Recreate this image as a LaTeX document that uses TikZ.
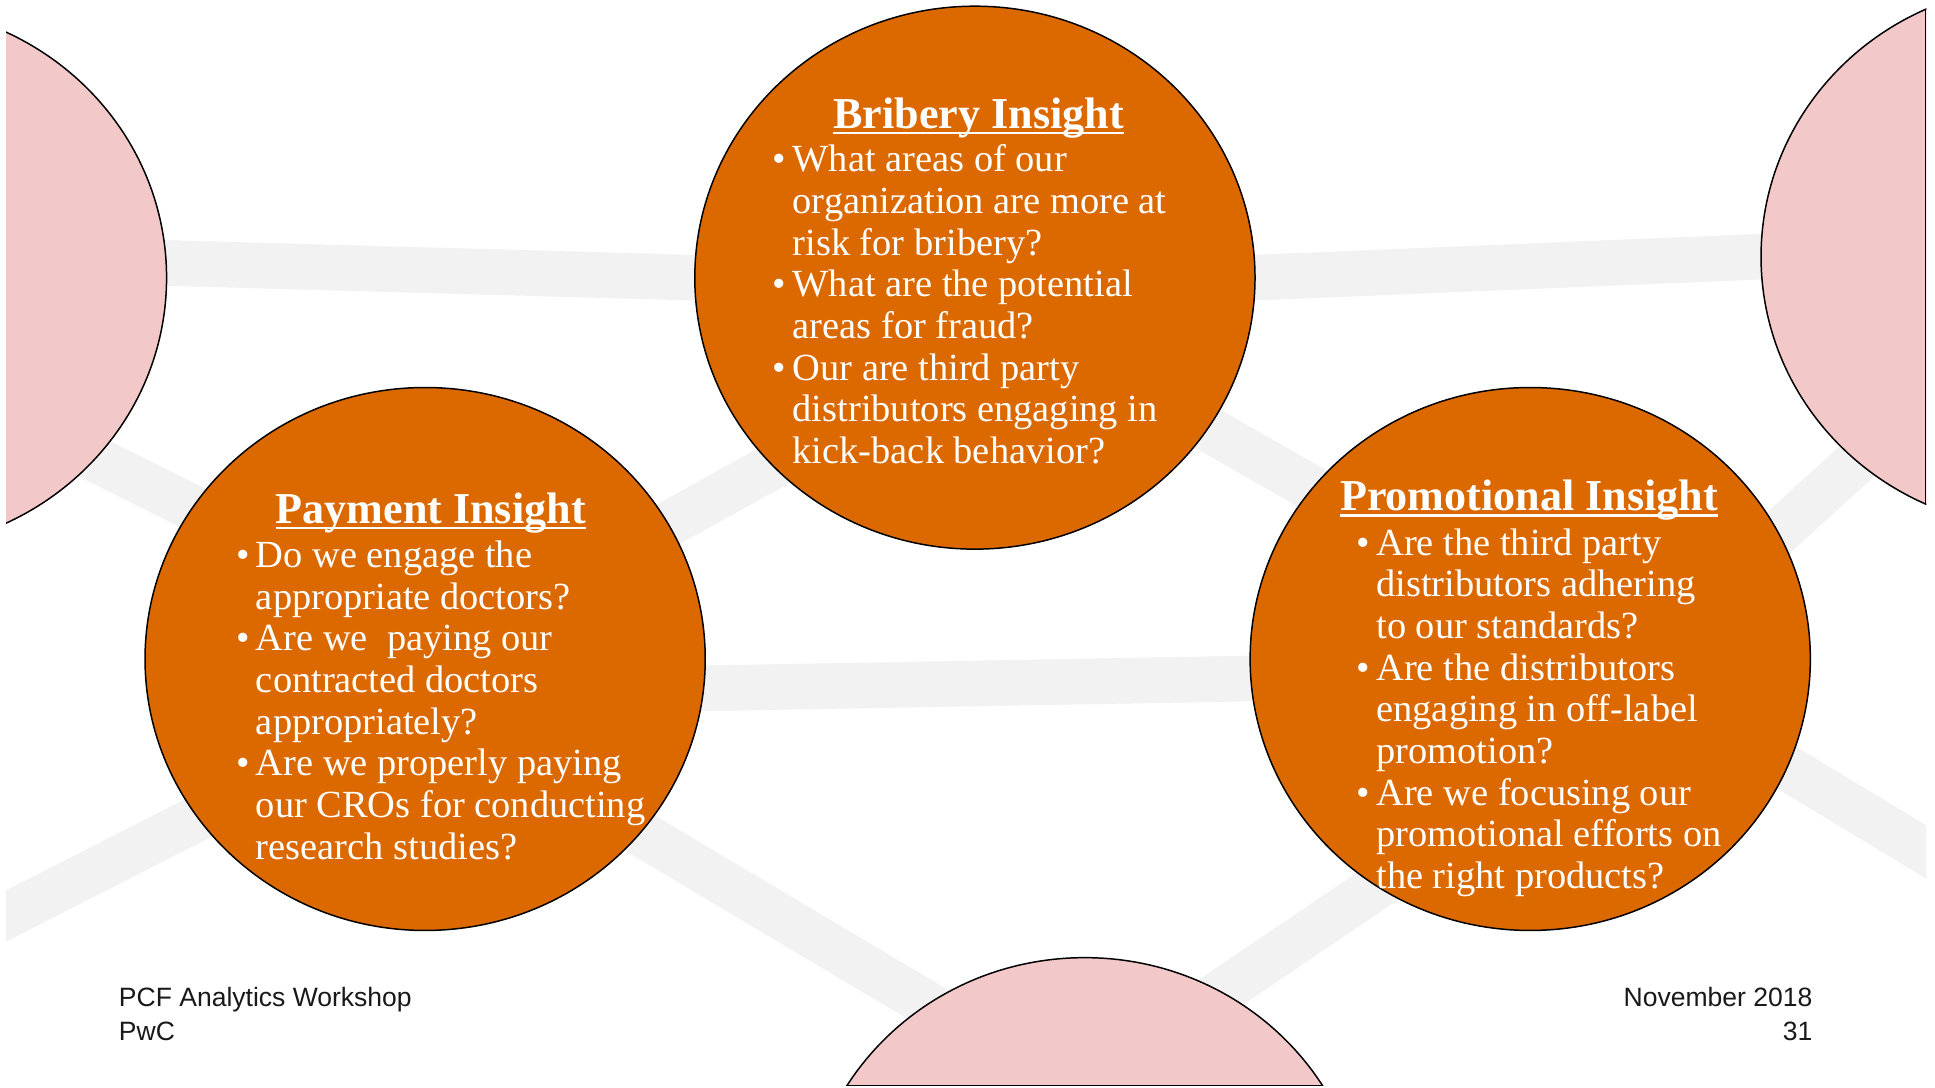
\documentclass[tikz,border=0pt]{standalone}
\usepackage{fontspec}
\setmainfont{Liberation Serif}
\newfontfamily\footfont{Liberation Sans}
\usetikzlibrary{shapes.geometric, positioning, backgrounds}
\definecolor{pwcorange}{RGB}{220, 105, 0}
\definecolor{riskpink}{RGB}{242, 200, 200}
\definecolor{bridgegray}{RGB}{242, 242, 242}
\definecolor{footgray}{RGB}{25, 25, 25}

\newcommand{\ultitle}[1]{\setbox0\hbox{#1}\rlap{\rule[-2.3pt]{\wd0}{0.9pt}}\box0}
\newcommand{\qbullet}{\llap{\textbullet\hspace{2.6pt}}}

\begin{document}
\begin{tikzpicture}[
        x=0.0175cm, y=-0.0175cm,
        insight/.style={ellipse, draw=black, line width=0.6pt, fill=pwcorange, minimum width=7.945cm, minimum height=7.7cm, inner sep=0pt},
        risk/.style={insight, fill=riskpink},
        bridge/.style={draw=bridgegray, line width=18.4pt, shorten <=-14pt, shorten >=-14pt},
        headline/.style={text=white, font=\fontsize{17.8}{20}\selectfont\bfseries, inner sep=0pt, anchor=base},
        question/.style={text=white, font=\fontsize{15.5}{16.8}\selectfont, align=left, inner sep=0pt, anchor=north west},
        footer/.style={text=footgray, font=\footfont\fontsize{10.7}{12.9}\selectfont, inner sep=0pt}
    ]
    \useasboundingbox (0,0) rectangle (1568,881);

    % the five areas
    \begin{scope}
        \clip (5,0) rectangle (1561,880);
        \node[risk] (riskL) at (-92,225) {};
        \node[risk] (riskR) at (1654,208) {};
        \node[risk] (riskB) at (879,996) {};
        \node[insight] (brib) at (790,225) {};
        \node[insight] (pay) at (344.5,534) {};
        \node[insight] (promo) at (1240,534) {};
    \end{scope}
    \draw[line width=0.6pt] (riskR.115) -- (riskR.245);
    \draw[line width=0.6pt] (riskB.149) -- (riskB.31);

    % grey links behind the areas
    \coordinate (edgeW) at (-20,755);
    \coordinate (edgeE) at (1590,708);
    \begin{scope}[on background layer]
        \fill[white] (0,0) rectangle (1568,881);
        \clip (5,0) rectangle (1561,880);
        \draw[bridge] (riskL.3) -- (brib.180);
        \draw[bridge] (brib.0) -- (riskR.180);
        \draw[bridge] (riskL.-41) -- (pay.147);
        \draw[bridge] (pay.29) -- (brib.223);
        \draw[bridge] (brib.-33) -- (promo.142);
        \draw[bridge] (promo.27) -- (riskR.228);
        \draw[bridge] (pay.-6) -- (promo.184);
        \draw[bridge, shorten <=0pt] (edgeW) -- (pay.215);
        \draw[bridge] (pay.-39) -- (riskB.125);
        \draw[bridge] (riskB.60) -- (promo.236);
        \draw[bridge, shorten >=0pt] (promo.-23) -- (edgeE);
    \end{scope}

    % Bribery
    \node[headline] (bribT) at (793,104) {\ultitle{Bribery Insight}};
    \node[question] (bribQ) at (642,117) {\qbullet What areas of our\\
        organization are more at\\
        risk for bribery?\\
        \qbullet What are the potential\\
        areas for fraud?\\
        \qbullet Our are third party\\
        distributors engaging in\\
        kick-back behavior?};

    % Payment
    \node[headline] (payT) at (349,424) {\ultitle{Payment Insight}};
    \node[question] (payQ) at (207,438) {\qbullet Do we engage the\\
        appropriate doctors?\\
        \qbullet Are we\ \ paying our\\
        contracted doctors\\
        appropriately?\\
        \qbullet Are we properly paying\\
        our CROs for conducting\\
        research studies?};

    % Promotional
    \node[headline] (promoT) at (1239,414) {\ultitle{Promotional Insight}};
    \node[question] (promoQ) at (1115,428) {\qbullet Are the third party\\
        distributors adhering\\
        to our standards?\\
        \qbullet Are the distributors\\
        engaging in off-label\\
        promotion?\\
        \qbullet Are we focusing our\\
        promotional efforts on\\
        the right products?};

    % footer
    \node[footer, anchor=base west] (event) at (96,816) {PCF Analytics Workshop};
    \node[footer, anchor=base west] (firm) at (96,843) {PwC};
    \node[footer, anchor=base east] (date) at (1469,816) {November 2018};
    \node[footer, anchor=base east] (page) at (1469,843) {31};
\end{tikzpicture}
\end{document}
